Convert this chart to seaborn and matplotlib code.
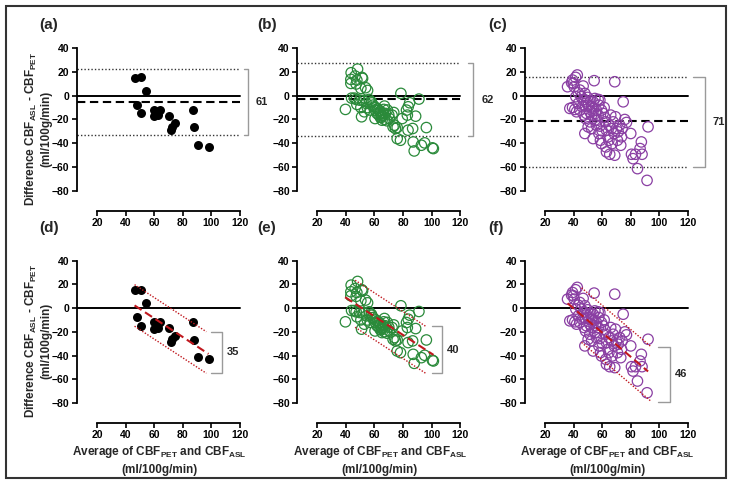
import matplotlib
matplotlib.use('Agg')
import matplotlib.pyplot as plt
from matplotlib.patches import Rectangle
import seaborn as sns
import numpy as np
import pandas as pd

##################################################################################
# Data (average CBF vs difference, ml/100g/min)
##################################################################################
a_avg = [46.3, 50.9, 54.2, 47.9, 50.9, 60.0, 60.0, 63.0, 62.6, 64.2, 61.6, 70.7,
         74.9, 72.6, 71.9, 87.2, 88.1, 90.5, 98.1]
a_diff = [14.9, 15.7, 4.3, -7.4, -14.9, -12.0, -17.4, -16.3, -13.7, -12.0, -15.0,
          -16.9, -23.1, -26.0, -28.9, -12.0, -26.6, -41.4, -42.9]

b_avg = [43.7, 48.2, 43.5, 43.5, 46.5, 47.7, 51.2, 51.7, 47.2, 50.5, 53.8, 55.2,
         39.7, 47.2, 47.7, 49.6, 50.5, 51.0, 52.9, 54.3, 56.2, 57.8, 59.0, 59.9,
         60.6, 60.4, 61.8, 63.0, 64.1, 65.3, 64.8, 66.5, 67.0, 67.7, 68.8, 65.3,
         70.5, 72.3, 73.5, 74.0, 73.0, 74.7, 75.9, 75.9, 78.2, 79.4, 78.5, 82.4,
         83.6, 84.6, 83.0, 83.5, 86.7, 87.1, 88.8, 87.8, 91.1, 92.8, 95.1, 96.3,
         100.5, 101.2, 58.0, 61.0, 63.0, 64.0, 65.0, 66.0, 64.0, 62.0, 67.0, 69.0,
         70.0, 57.0, 55.0, 52.0, 44.0, 46.0]
b_diff = [19.4, 22.5, 13.8, 10.4, 16.6, 13.2, 15.5, 14.6, 9.9, 6.2, 6.8, 4.5,
          -11.5, -3.1, -7.3, -3.7, -9.9, -17.7, -13.5, -6.5, -3.1, -5.1, -7.9, -9.3,
          -12.1, -19.2, -14.9, -12.1, -14.4, -16.3, -18.3, -11.5, -8.7, -14.9, -21.1,
          -20.6, -19.2, -16.3, -14.1, -24.8, -26.2, -27.6, -26.8, -36.1, -37.5, -19.2,
          2.0, -12.1, -9.3, -5.9, -16.3, -29.0, -27.6, -38.9, -17.2, -46.5, -2.8,
          -41.7, -39.7, -26.8, -43.9, -44.5, -6.0, -10.0, -16.0, -13.0, -17.0, -15.0,
          -18.0, -11.0, -20.0, -12.0, -16.0, -12.0, -10.0, -4.0, -2.0, -2.0]

c_avg = [35.8, 38.6, 39.3, 41.4, 42.6, 39.8, 40.5, 37.4, 39.3, 40.9, 42.1, 43.3,
         41.6, 43.3, 44.4, 46.7, 47.9, 47.4, 49.1, 50.2, 48.4, 47.4, 48.4, 47.9,
         50.2, 51.4, 52.6, 51.4, 52.6, 53.7, 54.9, 54.4, 56.0, 57.2, 57.7, 57.2,
         56.7, 58.4, 53.7, 57.7, 58.8, 59.5, 60.7, 61.4, 61.9, 62.3, 63.0, 62.6,
         63.0, 64.2, 64.7, 65.3, 66.0, 66.5, 67.7, 68.4, 68.8, 68.8, 69.3, 70.0,
         70.7, 71.2, 72.3, 73.0, 73.5, 74.0, 74.7, 75.8, 77.0, 80.0, 80.5, 81.6,
         83.3, 84.7, 86.5, 87.4, 87.9, 92.1, 91.4, 45.3, 46.7, 49.8, 52.1, 53.7,
         55.3, 46.0, 44.4, 49.1, 58.4, 59.5, 54.9, 52.6, 56.0, 60.0, 64.7, 67.0]
c_diff = [7.6, 11.0, 13.2, 15.5, 17.5, 10.4, 7.6, -10.7, -9.9, -11.5, -13.5, -6.5,
          -0.8, 2.5, 4.8, 8.2, 2.0, -3.1, -5.1, -7.9, -8.7, -16.3, -19.2, -31.8,
          -26.2, -22.0, -16.3, -13.5, -9.3, -5.1, -2.3, 12.7, -12.1, -3.1, -7.9,
          -16.3, -20.6, -25.6, -36.1, -31.8, -37.5, -40.3, -14.9, -9.9, -18.3, -22.0,
          -29.0, -43.1, -47.3, -34.6, -24.8, -49.3, -16.3, -27.6, -22.0, -31.8, 11.8,
          -50.1, -17.7, -27.6, -37.5, -30.4, -24.8, -41.7, -34.6, -27.6, -5.1, -20.0,
          -22.5, -31.8, -49.3, -53.0, -49.3, -61.4, -44.5, -38.9, -49.3, -26.2, -71.3,
          -0.8, -3.7, -1.4, -4.2, -10.7, -14.9, -9.3, -12.1, -14.9, -3.7, -12.1,
          -20.6, -27.6, -24.8, -29.6, -37.5, -40.3]

# Bland-Altman bias and limits of agreement (top row)
bias = [-5.6, -2.8, -21.4]
loa_upper = [22.3, 27.3, 15.5]
loa_lower = [-33.0, -34.1, -59.7]
loa_label = ['61', '62', '71']

# proportional-bias regression (bottom row)
reg_x0 = [46.3, 39.5, 35.8]
reg_x1 = [98.0, 101.3, 92.1]
reg_y0 = [2.3, 9.2, 4.1]
reg_slope = [-0.79, -0.786, -1.02]
pi_x0 = [46.3, 46.5, 45.6]
pi_x1 = [96.5, 95.8, 94.4]
pi_half = [17.5, 19.8, 23.0]
pi_label = ['35', '40', '46']

##################################################################################
# Style
##################################################################################
sns.set_theme(style='ticks')
plt.rcParams['font.family'] = ['Liberation Sans', 'DejaVu Sans']
plt.rcParams['font.weight'] = 'bold'
plt.rcParams['mathtext.fontset'] = 'custom'
plt.rcParams['mathtext.rm'] = 'Liberation Sans:bold'
plt.rcParams['mathtext.bf'] = 'Liberation Sans:bold'
plt.rcParams['mathtext.it'] = 'Liberation Sans:bold'

BLACK = '#000000'
GREEN = '#2a8a3a'
PURPLE = '#8a3fa3'
RED = '#c0181e'
GRAY = '#9a9a9a'

X0, X1 = 5.7, 122
Y0, Y1 = -97, 42

fig = plt.figure(figsize=(7.32, 4.9), dpi=100)
fig.patches.append(Rectangle((6 / 732, 1 - 478 / 490), 720 / 732, 472 / 490,
                             transform=fig.transFigure, fill=False,
                             edgecolor='#333333', linewidth=1.5))

col_left = [76.5, 296.8, 524.5]
row_top = [45.9, 258.3]
w_px = (X1 - X0) * 1.43
h_px = (Y1 - Y0) * 1.187

series = [(a_avg, a_diff, BLACK, True),
          (b_avg, b_diff, GREEN, False),
          (c_avg, c_diff, PURPLE, False)]
letters = [['(a)', '(b)', '(c)'], ['(d)', '(e)', '(f)']]

ylab = 'Difference CBF$_{\\rm ASL}$ - CBF$_{\\rm PET}$\n(ml/100g/min)'
xlab = 'Average of CBF$_{\\rm PET}$ and CBF$_{\\rm ASL}$\n(ml/100g/min)'

for r in range(2):
    for c in range(3):
        ax = fig.add_axes([col_left[c] / 732, 1 - (row_top[r] + h_px) / 490,
                           w_px / 732, h_px / 490])
        ax.set_facecolor('none')
        xs, ys, col, filled = series[c]
        df = pd.DataFrame({'avg': xs, 'diff': ys})

        if filled:
            sns.scatterplot(data=df, x='avg', y='diff', ax=ax, s=42,
                            color=col, edgecolor=col, linewidth=0, zorder=3)
        else:
            sns.scatterplot(data=df, x='avg', y='diff', ax=ax, s=56,
                            facecolors='none', edgecolor=col, linewidth=0.9,
                            zorder=3)

        # zero line
        ax.plot([X0, 120], [0, 0], color='black', lw=1.4, zorder=2)

        if r == 0:
            ax.plot([X0, 120], [bias[c], bias[c]], color='black', lw=1.5,
                    dashes=(4, 2.2), zorder=2)
            for v in (loa_upper[c], loa_lower[c]):
                ax.plot([X0, 120], [v, v], color='#333333', lw=1.0,
                        linestyle=(0, (1, 1.5)), zorder=2)
            bx = [125.6, 129.0, 131.9][c]
            cx = [122.5, 125.2, 123.8][c]
            tx = [131.0, 134.6, 137.3][c]
            ax.plot([cx, bx, bx, cx], [loa_upper[c], loa_upper[c],
                    loa_lower[c], loa_lower[c]], color=GRAY, lw=1.0,
                    clip_on=False)
            ax.text(tx, (loa_upper[c] + loa_lower[c]) / 2, loa_label[c],
                    fontsize=8, fontweight='bold', ha='left', va='center')
        else:
            xr = np.array([reg_x0[c], reg_x1[c]])
            ax.plot(xr, reg_y0[c] + reg_slope[c] * (xr - reg_x0[c]),
                    color=RED, lw=1.5, dashes=(4, 2), zorder=4)
            xp = np.array([pi_x0[c], pi_x1[c]])
            yp = reg_y0[c] + reg_slope[c] * (xp - reg_x0[c])
            ax.plot(xp, yp + pi_half[c], color=RED, lw=1.0,
                    linestyle=(0, (1, 1.2)), zorder=4)
            ax.plot(xp, yp - pi_half[c], color=RED, lw=1.0,
                    linestyle=(0, (1, 1.2)), zorder=4)
            top = yp[1] + pi_half[c]
            bot = yp[1] - pi_half[c]
            bx = [107.4, 106.9, 107.2][c]
            cx = [99.6, 99.9, 99.1][c]
            ax.plot([cx, bx, bx, cx], [top, top, bot, bot], color=GRAY,
                    lw=1.0, clip_on=False)
            ax.text(bx + 3.6, (top + bot) / 2, pi_label[c], fontsize=8,
                    fontweight='bold', ha='left', va='center')

        ax.set_xlim(X0, X1)
        ax.set_ylim(Y0, Y1)
        ax.set_xticks(np.arange(20, 121, 20))
        ax.set_yticks(np.arange(-80, 41, 20))
        ax.spines['left'].set_bounds(-80, 40)
        ax.spines['bottom'].set_bounds(20, 120)
        ax.spines['top'].set_visible(False)
        ax.spines['right'].set_visible(False)
        for s in ('left', 'bottom'):
            ax.spines[s].set_linewidth(1.3)
            ax.spines[s].set_color('black')
        ax.tick_params(axis='both', length=3.5, width=1.2, pad=1.5,
                       labelsize=7.5, colors='black')
        for lab in ax.get_xticklabels() + ax.get_yticklabels():
            lab.set_fontweight('bold')

        ax.set_xlabel(xlab if r == 1 else '', fontsize=8.5, fontweight='bold',
                      labelpad=3, linespacing=1.4)
        if c == 0:
            ax.set_ylabel(ylab, fontsize=8.5, fontweight='bold', labelpad=0,
                          linespacing=1.1)
        else:
            ax.set_ylabel('')

        lx = [39, 257, 488][c]
        ly = [25, 228][r]
        fig.text(lx / 732, 1 - ly / 490, letters[r][c], fontsize=11,
                 fontweight='bold', ha='left', va='center')

fig.savefig('out.png', dpi=100)
